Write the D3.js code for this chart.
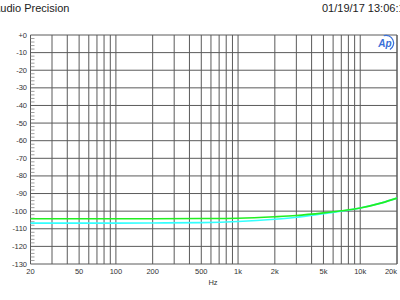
<!DOCTYPE html>
<meta charset="utf-8">
<style>
body { margin: 0; background: #fff; }
svg { display: block; font-family: "Liberation Sans", Arial, sans-serif; }
.grid line { stroke: #5a5a5a; stroke-width: 1; }
.ylab, .xlab { font-size: 7.5px; fill: #333; }
</style>
<body>
<script src="https://d3js.org/d3.v7.min.js"></script>
<script>
// readings
var freqs = [20, 50, 100, 200, 500, 1000, 2000, 3000, 5000, 7000, 10000, 15000, 20000];
var greenDb = [-104.3, -104.3, -104.3, -104.3, -104.2, -104.0, -103.2, -102.5, -101.0, -99.8, -98.2, -95.3, -92.6];
var cyanDb = [-106.8, -106.8, -106.8, -106.7, -106.5, -105.9, -104.6, -103.5, -101.4, -100.0, -98.2, -95.3, -92.6];
var xTickVals = [20, 50, 100, 200, 500, 1000, 2000, 5000, 10000, 20000];
var xTickText = ["20", "50", "100", "200", "500", "1k", "2k", "5k", "10k", "20k"];
var yTickVals = [0, -10, -20, -30, -40, -50, -60, -70, -80, -90, -100, -110, -120, -130];

var width = 400, height = 300;
var margin = {top: 35, right: 3, bottom: 36, left: 30.5};

var svg = d3.select("body").append("svg")
  .attr("width", width)
  .attr("height", height);

var x = d3.scaleLog().domain([20, 20000]).range([margin.left, width - margin.right]);
var y = d3.scaleLinear().domain([-130, 0]).range([height - margin.bottom, margin.top]);

// header (cut at the edges, as in the original capture)
svg.append("text").attr("x", -7).attr("y", 12).attr("font-size", 11).attr("fill", "#222").text("Audio Precision");
svg.append("text").attr("x", 322).attr("y", 12).attr("font-size", 11).attr("fill", "#222").text("01/19/17 13:06:17");

// grid
var gridFreqs = [];
[10, 100, 1000, 10000].forEach(function(d) {
  for (var i = 1; i <= 9; i++) {
    var f = d * i;
    if (f >= 20 && f <= 20000) gridFreqs.push(f);
  }
});
gridFreqs.push(20000);

var grid = svg.append("g").attr("class", "grid");
grid.selectAll(".v").data(gridFreqs).enter().append("line")
  .attr("x1", function(d) { return x(d); }).attr("x2", function(d) { return x(d); })
  .attr("y1", y(0)).attr("y2", y(-130));
grid.selectAll(".h").data(yTickVals).enter().append("line")
  .attr("x1", x(20)).attr("x2", x(20000))
  .attr("y1", function(d) { return y(d); }).attr("y2", function(d) { return y(d); });

// minor ticks on left axis
var minor = d3.range(-128, 0, 2).filter(function(d) { return d % 10 !== 0; });
svg.append("g").selectAll("line").data(minor).enter().append("line")
  .attr("x1", x(20)).attr("x2", x(20) + 4)
  .attr("y1", function(d) { return y(d); }).attr("y2", function(d) { return y(d); })
  .attr("stroke", "#888").attr("stroke-width", 0.8);

// labels
svg.append("g").selectAll("text").data(yTickVals).enter().append("text")
  .attr("class", "ylab")
  .attr("x", 27).attr("y", function(d) { return y(d) + 2.5; })
  .attr("text-anchor", "end")
  .text(function(d) { return d === 0 ? "+0" : d; });
svg.append("g").selectAll("text").data(xTickVals).enter().append("text")
  .attr("class", "xlab")
  .attr("x", function(d, i) { return i === xTickVals.length - 1 ? x(d) : x(d); })
  .attr("y", height - margin.bottom + 10)
  .attr("text-anchor", function(d, i) { return i === xTickVals.length - 1 ? "end" : "middle"; })
  .text(function(d, i) { return xTickText[i]; });
svg.append("text").attr("class", "xlab").attr("x", 213).attr("y", 285)
  .attr("text-anchor", "middle").text("Hz");

// curves
var line = d3.line()
  .x(function(d) { return x(d[0]); })
  .y(function(d) { return y(d[1]); })
  .curve(d3.curveMonotoneX);

svg.append("path").datum(freqs.map(function(f, i) { return [f, cyanDb[i]]; }))
  .attr("d", line).attr("fill", "none").attr("stroke", "#33ffff").attr("stroke-width", 1.6);
svg.append("path").datum(freqs.map(function(f, i) { return [f, greenDb[i]]; }))
  .attr("d", line).attr("fill", "none").attr("stroke", "#22ee22").attr("stroke-width", 1.6);

// Ap logo
var logo = svg.append("g").attr("transform", "translate(386,43)");
logo.append("path")
  .attr("d", d3.arc()({innerRadius: 7, outerRadius: 8.2, startAngle: -0.3, endAngle: 2.6}))
  .attr("fill", "#3a6fd8");
logo.append("text").attr("x", -1).attr("y", 3.5).attr("text-anchor", "middle")
  .attr("font-size", 10).attr("font-style", "italic").attr("font-weight", "bold")
  .attr("fill", "#3a6fd8").text("Ap");
</script>
</body>
